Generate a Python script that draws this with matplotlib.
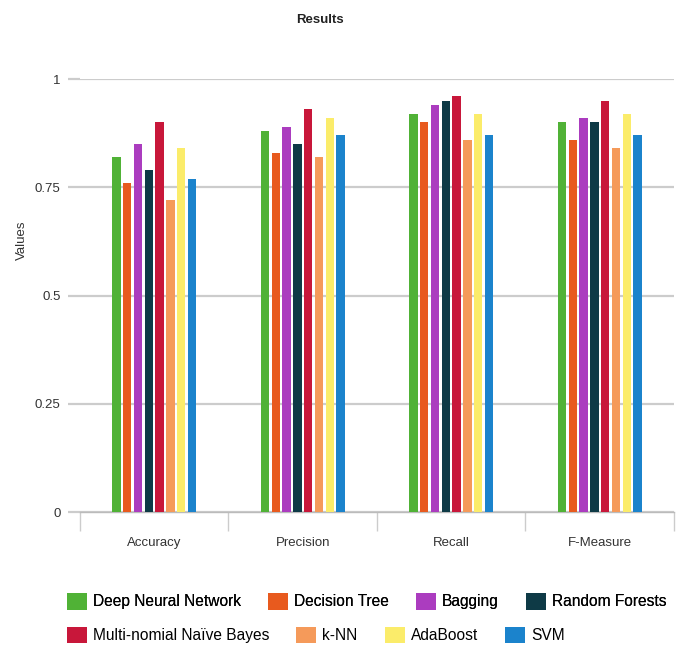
import matplotlib.pyplot as plt
import numpy as np
from matplotlib.patches import Patch

metrics = ['Accuracy', 'Precision', 'Recall', 'F-Measure']
models = ['Deep Neural Network', 'Decision Tree', 'Bagging', 'Random Forests',
          'Multi-nomial Naïve Bayes', 'k-NN', 'AdaBoost', 'SVM']

# scores per model, in the order of metrics
dnn     = [0.82, 0.88, 0.92, 0.90]
dtree   = [0.76, 0.83, 0.90, 0.86]
bagging = [0.85, 0.89, 0.94, 0.91]
rforest = [0.79, 0.85, 0.95, 0.90]
mnb     = [0.90, 0.93, 0.96, 0.95]
knn     = [0.72, 0.82, 0.86, 0.84]
ada     = [0.84, 0.91, 0.92, 0.92]
svm     = [0.77, 0.87, 0.87, 0.87]
scores = [dnn, dtree, bagging, rforest, mnb, knn, ada, svm]

colors = ['#50b236', '#e85a1e', '#ab3cbf', '#0e3a46',
          '#c8173a', '#f59a5a', '#fbec6a', '#1b83cc']

plt.rcParams['font.family'] = ['Liberation Sans', 'DejaVu Sans']

fig = plt.figure(figsize=(6.86, 6.52), dpi=100)
ax = fig.add_axes([0.1166, 0.2147, 0.8659, 0.6641])

x = np.arange(len(metrics))
pitch = 0.0727
width = 0.056
for i, (vals, col) in enumerate(zip(scores, colors)):
    ax.bar(x + (i - 3.5) * pitch, vals, width=width, color=col, zorder=3)

ax.set_xlim(-0.5, 3.5)
ax.set_ylim(0, 1.0)
ax.set_yticks([0, 0.25, 0.5, 0.75, 1])
ax.set_yticklabels(['0', '0.25', '0.5', '0.75', '1'])
ax.yaxis.grid(True, color='#cccccc', linewidth=1.6, zorder=0)
ax.tick_params(axis='y', length=9, color='#cccccc', width=1.6,
               labelsize=9.5, labelcolor='#333333', pad=5)

ax.set_xticks(x)
ax.set_xticklabels(metrics)
ax.set_xticks(np.arange(-0.5, 4, 1), minor=True)
ax.tick_params(axis='x', which='major', length=0, labelsize=9.5,
               labelcolor='#333333', pad=18)
ax.tick_params(axis='x', which='minor', length=14, color='#cccccc', width=1)

for s in ['top', 'right', 'left']:
    ax.spines[s].set_visible(False)
ax.spines['bottom'].set_color('#bbbbbb')
ax.spines['bottom'].set_linewidth(1)

ax.set_ylabel('Values', fontsize=9.5, color='#333333')
ax.yaxis.set_label_coords(-0.088, 0.628)
fig.text(0.466, 0.969, 'Results', ha='center', va='center',
         fontsize=9.5, fontweight='bold', color='#222222')

handles = [Patch(facecolor=c, edgecolor='none') for c in colors]
leg_kw = dict(ncol=4, frameon=False, loc='center left', borderpad=0,
              borderaxespad=0, handlelength=1.28, handleheight=1.28,
              handletextpad=0.38, columnspacing=1.75,
              prop={'size': 11.2})
leg1 = fig.legend(handles[:4], models[:4], bbox_to_anchor=(0.0977, 0.078), **leg_kw)
fig.add_artist(leg1)
fig.legend(handles[4:], models[4:], bbox_to_anchor=(0.0977, 0.026), **leg_kw)

fig.savefig('out.png', dpi=100)
